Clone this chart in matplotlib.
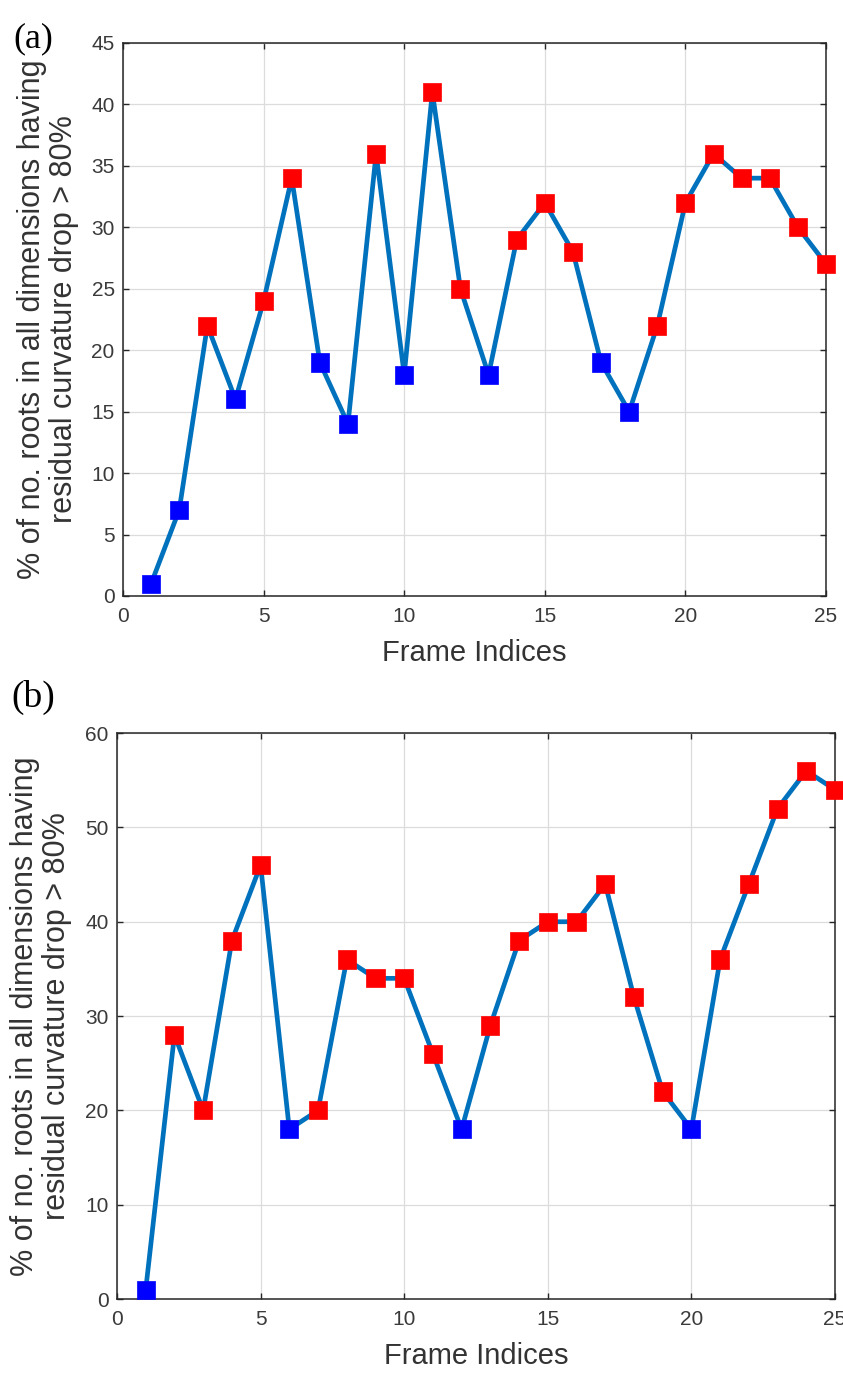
import matplotlib
matplotlib.use('Agg')
import matplotlib.pyplot as plt
import numpy as np

# frame indices shared by both panels
frames = list(range(1, 26))

# panel (a) values
pct_a = [1, 7, 22, 16, 24, 34, 19, 14, 36, 18, 41, 25, 18, 29, 32, 28, 19, 15, 22, 32, 36, 34, 34, 30, 27]
# panel (b) values
pct_b = [1, 28, 20, 38, 46, 18, 20, 36, 34, 34, 26, 18, 29, 38, 40, 40, 44, 32, 22, 18, 36, 44, 52, 56, 54]

yticks_a = [0, 5, 10, 15, 20, 25, 30, 35, 40, 45]
yticks_b = [0, 10, 20, 30, 40, 50, 60]
xticks = [0, 5, 10, 15, 20, 25]

ylabel = '% of no. roots in all dimensions having\nresidual curvature drop > 80%'
xlabel = 'Frame Indices'
threshold = 20  # below this the marker is blue

plt.rcParams['font.family'] = ['Liberation Sans', 'DejaVu Sans']

fig = plt.figure(figsize=(8.43, 13.78), dpi=100)
ax_a = fig.add_axes([0.1459, 0.5675, 0.834, 0.4013])
ax_b = fig.add_axes([0.1388, 0.0573, 0.8517, 0.4107])

dark = '#262626'


def draw_panel(ax, vals, yticks, ylim, xlab_y):
    x = np.array(frames)
    y = np.array(vals)
    ax.plot(x, y, color='#0072BD', lw=3.4, zorder=2.8, clip_on=False)
    cols = np.where(y < threshold, '#0000FF', '#FF0000')
    ax.scatter(x, y, marker='s', s=13 ** 2, c=cols, edgecolors=cols,
               linewidths=0.5, zorder=3, clip_on=False)
    ax.set_xlim(0, 25)
    ax.set_ylim(*ylim)
    ax.set_xticks(xticks)
    ax.set_yticks(yticks)
    ax.grid(True, color='#dcdcdc', lw=0.9)
    ax.set_axisbelow(True)
    for s in ax.spines.values():
        s.set_color(dark)
        s.set_linewidth(1.1)
    ax.tick_params(axis='both', direction='in', length=4, width=1.0,
                   colors=dark, labelcolor='#3a3a3a', labelsize=15,
                   top=True, right=True)
    ax.tick_params(axis='x', pad=8)
    ax.tick_params(axis='y', pad=6)
    ax.set_ylabel(ylabel, fontsize=22, color='#333333', linespacing=1.1)
    ax.yaxis.set_label_coords(-0.062, 0.5)
    ax.set_xlabel(xlabel, fontsize=21, color='#333333')
    ax.xaxis.set_label_coords(0.5, xlab_y)


draw_panel(ax_a, pct_a, yticks_a, (0, 45), -0.078)
draw_panel(ax_b, pct_b, yticks_b, (0, 60), -0.076)

fig.text(0.016, 0.972, '(a)', fontsize=26, family='Liberation Serif', va='center')
fig.text(0.014, 0.494, '(b)', fontsize=27, family='Liberation Serif', va='center')

fig.savefig('out.png', dpi=100)
